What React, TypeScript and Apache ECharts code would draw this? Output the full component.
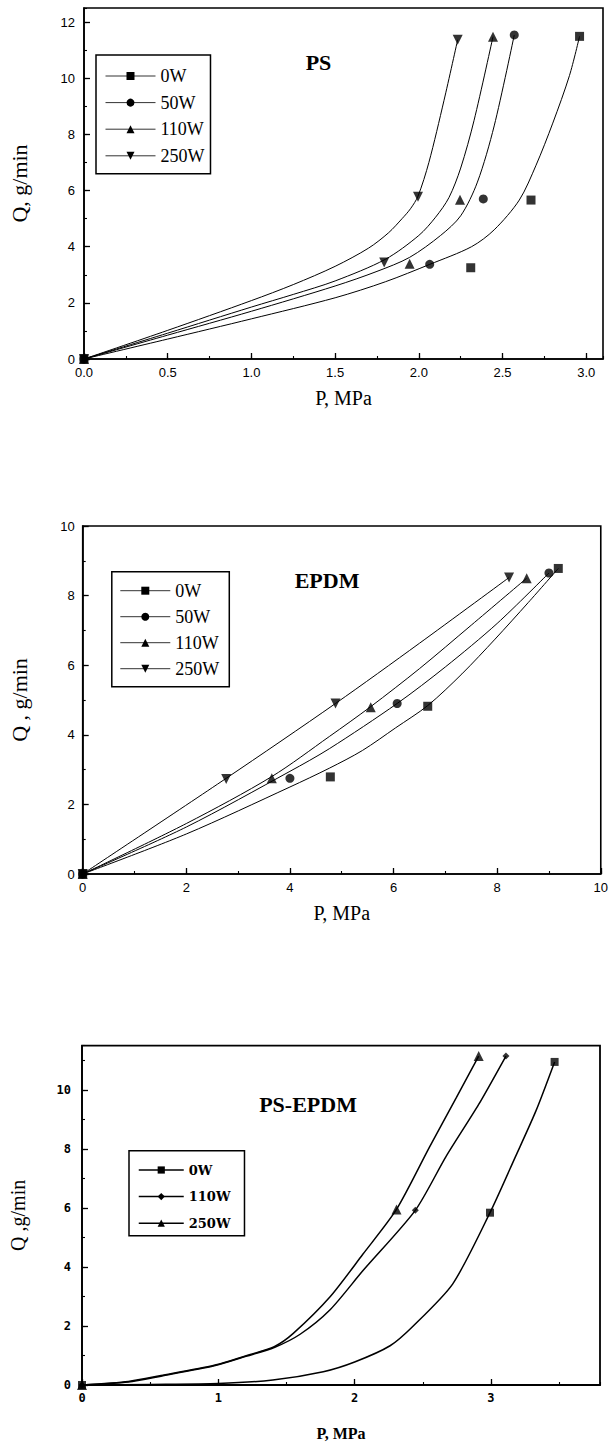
import React, { useEffect, useRef } from "react";
import * as echarts from "echarts";

// ---------------- DATA ----------------
// Panel 1: PS  (P in MPa, Q in g/min)
const psPoints0W = [[0, 0], [2.31, 3.25], [2.67, 5.66], [2.96, 11.49]];
const psPoints50W = [[0, 0], [2.065, 3.37], [2.385, 5.7], [2.57, 11.54]];
const psPoints110W = [[0, 0], [1.945, 3.39], [2.246, 5.67], [2.443, 11.48]];
const psPoints250W = [[0, 0], [1.793, 3.44], [1.995, 5.78], [2.232, 11.37]];

const psCurve0W = [[0, 0], [0.5, 0.71], [1.0, 1.43], [1.5, 2.18], [1.8, 2.75], [2.065, 3.37], [2.315, 4.0], [2.45, 4.6], [2.6, 5.66], [2.7, 6.9], [2.8, 8.4], [2.9, 10.1], [2.96, 11.49]];
const psCurve50W = [[0, 0], [0.5, 0.85], [1.0, 1.7], [1.5, 2.6], [1.75, 3.12], [1.945, 3.62], [2.13, 4.4], [2.25, 5.1], [2.35, 6.3], [2.45, 8.3], [2.57, 11.54]];
const psCurve110W = [[0, 0], [0.5, 0.92], [1.0, 1.85], [1.25, 2.3], [1.5, 2.78], [1.8, 3.55], [2.0, 4.4], [2.1, 5.05], [2.18, 5.75], [2.25, 6.8], [2.33, 8.5], [2.443, 11.48]];
const psCurve250W = [[0, 0], [0.5, 1.02], [1.0, 2.08], [1.25, 2.65], [1.5, 3.3], [1.7, 3.95], [1.82, 4.5], [1.9, 5.0], [1.95, 5.35], [1.995, 5.8], [2.06, 7.0], [2.15, 9.2], [2.232, 11.37]];

// Panel 2: EPDM
const epPoints0W = [[0, 0], [4.78, 2.79], [6.66, 4.82], [9.18, 8.78]];
const epPoints50W = [[0, 0], [4.0, 2.75], [6.07, 4.9], [9.0, 8.65]];
const epPoints110W = [[0, 0], [3.65, 2.75], [5.56, 4.79], [8.57, 8.5]];
const epPoints250W = [[0, 0], [2.77, 2.73], [4.88, 4.9], [8.23, 8.52]];

const epCurve0W = [[0, 0], [2, 1.15], [4, 2.5], [4.76, 3.04], [5.4, 3.55], [6.04, 4.2], [6.66, 4.84], [7.32, 5.75], [7.96, 6.75], [8.6, 7.8], [9.18, 8.78]];
const epCurve50W = [[0, 0], [2, 1.35], [4, 2.95], [4.76, 3.6], [6.07, 4.9], [7, 5.95], [8, 7.2], [9, 8.65]];
const epCurve110W = [[0, 0], [2, 1.45], [3.65, 2.8], [4.76, 3.95], [5.56, 4.81], [6.5, 5.9], [7.5, 7.15], [8.57, 8.5]];
const epCurve250W = [[0, 0], [2.77, 2.75], [4.88, 4.9], [6.5, 6.63], [8.23, 8.52]];

// Panel 3: PS-EPDM
const pePoints0W = [[0, 0], [2.993, 5.84], [3.467, 10.95]];
const pePoints110W = [[0, 0], [2.445, 5.92], [3.11, 11.15]];
const pePoints250W = [[0, 0], [2.307, 5.95], [2.91, 11.15]];

const peCurve0W = [[0, 0], [0.5, 0.02], [1.0, 0.05], [1.4, 0.17], [1.77, 0.45], [2.0, 0.78], [2.26, 1.33], [2.43, 2.0], [2.72, 3.43], [2.993, 5.84], [3.18, 7.74], [3.33, 9.29], [3.467, 10.95]];
const peCurve110W = [[0, 0], [0.34, 0.1], [0.58, 0.3], [0.97, 0.65], [1.21, 0.98], [1.41, 1.27], [1.6, 1.72], [1.82, 2.55], [2.06, 3.87], [2.445, 5.92], [2.67, 7.74], [2.91, 9.51], [3.11, 11.15]];
const peCurve250W = [[0, 0], [0.34, 0.12], [0.58, 0.32], [0.97, 0.67], [1.21, 1.0], [1.41, 1.3], [1.55, 1.75], [1.82, 2.99], [2.06, 4.43], [2.307, 5.95], [2.55, 8.07], [2.745, 9.73], [2.91, 11.15]];

const legendPS = ["0W", "50W", "110W", "250W"];
const legendEPDM = ["0W", "50W", "110W", "250W"];
const legendPSEPDM = ["0W", "110W", "250W"];

// ---------------- STYLE ----------------
const SYM_SQUARE = "rect";
const SYM_CIRCLE = "circle";
const SYM_DIAMOND = "diamond";
const SYM_UP = "path://M5,0L10,9L0,9Z";
const SYM_DOWN = "path://M0,0L10,0L5,9Z";

type AxisCfg = {
  min: number; max: number; major: number; minor: number;
  name: string; nameGap: number; nameFont: any;
  labelMargin: number; labelFont: any; showMax: boolean;
  fmt?: (v: number) => string;
};

function axisPair(dir: "x" | "y", c: AxisCfg) {
  const position = dir === "x" ? "bottom" : "left";
  const main: any = {
    type: "value", gridIndex: 0, position, min: c.min, max: c.max, interval: c.major,
    name: c.name, nameLocation: "middle", nameGap: c.nameGap,
    nameTextStyle: { color: "#000", ...c.nameFont },
    axisLine: { show: true, onZero: false, lineStyle: { color: "#000", width: 1.6 } },
    axisTick: { show: true, inside: true, length: 6, lineStyle: { color: "#000", width: 1.3 } },
    splitLine: { show: false },
    axisLabel: {
      show: true, margin: c.labelMargin, color: "#000", ...c.labelFont,
      showMaxLabel: c.showMax, showMinLabel: true,
      formatter: c.fmt ? (v: number) => c.fmt!(v) : (v: number) => String(v),
    },
  };
  const minor: any = {
    type: "value", gridIndex: 0, position, min: c.min, max: c.max, interval: c.minor,
    axisLine: { show: false, onZero: false },
    axisTick: { show: true, inside: true, length: 3, lineStyle: { color: "#000", width: 1.1 } },
    axisLabel: { show: false },
    splitLine: { show: false },
  };
  return [main, minor];
}

type SeriesDef = { name: string; curve: number[][]; points: number[][]; symbol: string; size: number };

function buildSeries(defs: SeriesDef[], lineWidth: number, smooth: number) {
  const out: any[] = [];
  defs.forEach((d) => {
    out.push({
      type: "line", name: d.name, data: d.curve, xAxisIndex: 0, yAxisIndex: 0,
      showSymbol: false, symbol: d.symbol, symbolSize: d.size,
      smooth,
      lineStyle: { color: "#000", width: lineWidth },
      itemStyle: { color: "#000" }, z: 2, silent: true,
    });
    out.push({
      type: "scatter", name: d.name + " data", data: d.points, xAxisIndex: 0, yAxisIndex: 0,
      symbol: d.symbol, symbolSize: d.size, itemStyle: { color: "#000" }, z: 3, silent: true,
    });
  });
  return out;
}

const serifFont = "Liberation Serif";
const sansFont = "Liberation Sans";

function optionPS() {
  const [x0, x1] = axisPair("x", {
    min: 0, max: 3.1, major: 0.5, minor: 0.25, name: "P, MPa", nameGap: 29,
    nameFont: { fontFamily: serifFont, fontSize: 20 },
    labelMargin: 7, labelFont: { fontFamily: sansFont, fontSize: 13 }, showMax: false,
    fmt: (v) => v.toFixed(1),
  });
  const [y0, y1] = axisPair("y", {
    min: 0, max: 12.5, major: 2, minor: 1, name: "Q, g/min", nameGap: 54,
    nameFont: { fontFamily: serifFont, fontSize: 22 },
    labelMargin: 9, labelFont: { fontFamily: sansFont, fontSize: 13 }, showMax: false,
  });
  return {
    animation: false,
    backgroundColor: "#fff",
    grid: { left: 80.4, top: 8, width: 522.6, height: 351, show: true, borderColor: "#000", borderWidth: 1.6, containLabel: false },
    xAxis: [x0, x1], yAxis: [y0, y1],
    legend: {
      data: legendPS, orient: "vertical", left: 96, top: 55, padding: [12, 6, 9, 9],
      itemWidth: 50, itemHeight: 10, itemGap: 8.6, selectedMode: false,
      borderColor: "#000", borderWidth: 1.5, backgroundColor: "#fff",
      lineStyle: { color: "#333", width: 1 },
      textStyle: { fontFamily: serifFont, fontSize: 18, lineHeight: 18, color: "#000" },
    },
    graphic: [
      { type: "text", x: 318.5, y: 62, style: { text: "PS", font: 'bold 22px "Liberation Serif"', fill: "#000", align: "center", verticalAlign: "middle" } },
    ],
    series: buildSeries([
      { name: legendPS[0], curve: psCurve0W, points: psPoints0W, symbol: SYM_SQUARE, size: 9 },
      { name: legendPS[1], curve: psCurve50W, points: psPoints50W, symbol: SYM_CIRCLE, size: 9 },
      { name: legendPS[2], curve: psCurve110W, points: psPoints110W, symbol: SYM_UP, size: 10 },
      { name: legendPS[3], curve: psCurve250W, points: psPoints250W, symbol: SYM_DOWN, size: 10 },
    ], 1, 0.3),
  };
}

function optionEPDM() {
  const [x0, x1] = axisPair("x", {
    min: 0, max: 10, major: 2, minor: 1, name: "P, MPa", nameGap: 29,
    nameFont: { fontFamily: serifFont, fontSize: 20 },
    labelMargin: 7, labelFont: { fontFamily: sansFont, fontSize: 13 }, showMax: true,
  });
  const [y0, y1] = axisPair("y", {
    min: 0, max: 10, major: 2, minor: 1, name: "Q , g/min", nameGap: 52,
    nameFont: { fontFamily: serifFont, fontSize: 22 },
    labelMargin: 8, labelFont: { fontFamily: sansFont, fontSize: 13 }, showMax: true,
  });
  return {
    animation: false,
    backgroundColor: "#fff",
    grid: { left: 82.7, top: 56, width: 519.3, height: 348, show: true, borderColor: "#000", borderWidth: 1.6, containLabel: false },
    xAxis: [x0, x1], yAxis: [y0, y1],
    legend: {
      data: legendEPDM, orient: "vertical", left: 111.8, top: 101.7, padding: [10, 10, 9, 8],
      itemWidth: 50, itemHeight: 10, itemGap: 8, selectedMode: false,
      borderColor: "#000", borderWidth: 1.5, backgroundColor: "#fff",
      lineStyle: { color: "#333", width: 1 },
      textStyle: { fontFamily: serifFont, fontSize: 18, lineHeight: 18, color: "#000" },
    },
    graphic: [
      { type: "text", x: 327, y: 110, style: { text: "EPDM", font: 'bold 22px "Liberation Serif"', fill: "#000", align: "center", verticalAlign: "middle" } },
    ],
    series: buildSeries([
      { name: legendEPDM[0], curve: epCurve0W, points: epPoints0W, symbol: SYM_SQUARE, size: 9 },
      { name: legendEPDM[1], curve: epCurve50W, points: epPoints50W, symbol: SYM_CIRCLE, size: 9 },
      { name: legendEPDM[2], curve: epCurve110W, points: epPoints110W, symbol: SYM_UP, size: 10 },
      { name: legendEPDM[3], curve: epCurve250W, points: epPoints250W, symbol: SYM_DOWN, size: 10 },
    ], 1, 0.3),
  };
}

function optionPSEPDM() {
  const [x0, x1] = axisPair("x", {
    min: 0, max: 3.8, major: 1, minor: 0.5, name: "P, MPa", nameGap: 40,
    nameFont: { fontFamily: serifFont, fontSize: 16, fontWeight: "bold" },
    labelMargin: 7, labelFont: { fontFamily: "DejaVu Sans Mono", fontSize: 12, fontWeight: "bold" }, showMax: false,
  });
  const [y0, y1] = axisPair("y", {
    min: 0, max: 11.5, major: 2, minor: 1, name: "Q ,g/min", nameGap: 54,
    nameFont: { fontFamily: serifFont, fontSize: 20 },
    labelMargin: 11, labelFont: { fontFamily: "DejaVu Sans Mono", fontSize: 12, fontWeight: "bold" }, showMax: false,
  });
  return {
    animation: false,
    backgroundColor: "#fff",
    grid: { left: 80.7, top: 85.7, width: 519.3, height: 348.3, show: true, borderColor: "#000", borderWidth: 1.8, containLabel: false },
    xAxis: [x0, x1], yAxis: [y0, y1],
    legend: {
      data: legendPSEPDM, orient: "vertical", left: 129, top: 190.7, padding: [12.8, 14, 6, 9],
      itemWidth: 45, itemHeight: 9, itemGap: 13.6, selectedMode: false,
      borderColor: "#000", borderWidth: 1.5, backgroundColor: "#fff",
      lineStyle: { color: "#000", width: 1.5 },
      textStyle: { fontFamily: "DejaVu Serif", fontSize: 13, fontWeight: "bold", lineHeight: 13, color: "#000" },
    },
    graphic: [
      { type: "text", x: 308, y: 144, style: { text: "PS-EPDM", font: 'bold 22px "Liberation Serif"', fill: "#000", align: "center", verticalAlign: "middle" } },
    ],
    series: buildSeries([
      { name: legendPSEPDM[0], curve: peCurve0W, points: pePoints0W, symbol: SYM_SQUARE, size: 8 },
      { name: legendPSEPDM[1], curve: peCurve110W, points: pePoints110W, symbol: SYM_DIAMOND, size: 7 },
      { name: legendPSEPDM[2], curve: peCurve250W, points: pePoints250W, symbol: SYM_UP, size: 10 },
    ], 1.5, 0.25),
  };
}

function ChartBox({ option, top, height }: { option: any; top: number; height: number }) {
  const ref = useRef<HTMLDivElement>(null);
  useEffect(() => {
    if (!ref.current) return;
    const chart = echarts.init(ref.current, undefined, { renderer: "svg" });
    chart.setOption(option);
    return () => chart.dispose();
  }, []);
  return <div ref={ref} style={{ position: "absolute", left: 0, top, width: 611, height }} />;
}

export default function App() {
  return (
    <div style={{ position: "absolute", left: 0, top: 0, width: 611, height: 1446, background: "#fff", overflow: "hidden" }}>
      <ChartBox option={optionPS()} top={0} height={470} />
      <ChartBox option={optionEPDM()} top={470} height={490} />
      <ChartBox option={optionPSEPDM()} top={960} height={486} />
    </div>
  );
}
